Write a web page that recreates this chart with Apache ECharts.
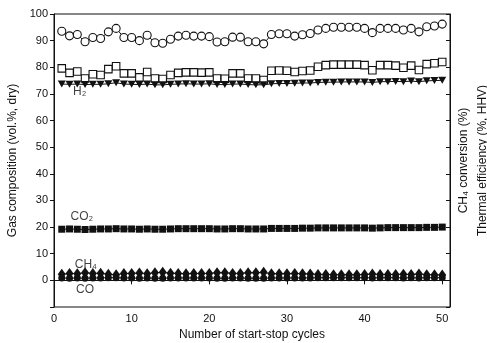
<!DOCTYPE html>
<html>
<head>
<meta charset="utf-8">
<script src="https://cdn.jsdelivr.net/npm/echarts@6/dist/echarts.min.js"></script>
<style>
  html, body { margin: 0; padding: 0; background: #fff; }
  #chart { width: 487px; height: 343px; }
</style>
</head>
<body>
<div id="chart"></div>
<script>
const cycles = [1, 2, 3, 4, 5, 6, 7, 8, 9, 10, 11, 12, 13, 14, 15, 16, 17, 18, 19, 20,
  21, 22, 23, 24, 25, 26, 27, 28, 29, 30, 31, 32, 33, 34, 35, 36, 37, 38, 39, 40,
  41, 42, 43, 44, 45, 46, 47, 48, 49, 50]

// open circles
const ch4Conversion = [93.5, 91.8, 92.3, 89.6, 91.2, 90.8, 93.3, 94.6, 91.2, 91.2,
  90.0, 92.0, 89.2, 89.0, 90.5, 91.7, 92.0, 91.7, 91.7, 91.5,
  89.5, 89.6, 91.3, 91.3, 89.6, 89.6, 88.8, 92.3, 92.6, 92.6,
  91.7, 92.2, 92.7, 94.0, 94.6, 95.0, 95.0, 95.0, 95.0, 94.6,
  93.0, 94.6, 94.6, 94.6, 94.0, 94.6, 93.3, 95.2, 95.5, 96.2]

// open squares
const thermalEff = [79.6, 77.9, 78.4, 75.8, 77.4, 77.1, 79.3, 80.4, 77.7, 77.7,
  76.2, 78.2, 75.8, 75.6, 77.1, 77.9, 78.1, 78.1, 78.0, 78.1,
  75.8, 75.7, 77.7, 77.7, 75.8, 75.8, 75.2, 78.7, 78.8, 78.7,
  78.2, 78.6, 78.8, 80.2, 80.8, 81.0, 81.0, 81.0, 81.0, 80.8,
  78.9, 80.8, 80.8, 80.6, 79.8, 80.6, 79.0, 81.2, 81.5, 82.0]

const h2 = [73.7, 73.6, 73.7, 73.5, 73.6, 73.6, 73.8, 74.2, 73.7, 73.6,
  73.5, 73.7, 73.4, 73.4, 73.6, 73.7, 73.8, 73.7, 73.7, 73.8,
  73.5, 73.5, 73.7, 73.7, 73.5, 73.4, 73.4, 73.8, 73.9, 73.9,
  74.0, 74.1, 74.1, 74.3, 74.4, 74.4, 74.5, 74.5, 74.5, 74.5,
  74.3, 74.6, 74.6, 74.7, 74.6, 74.8, 74.6, 74.9, 75.0, 75.1]

const co2 = [19.2, 19.3, 19.2, 19.1, 19.2, 19.3, 19.3, 19.4, 19.3, 19.3,
  19.2, 19.3, 19.2, 19.2, 19.3, 19.4, 19.4, 19.4, 19.4, 19.4,
  19.3, 19.3, 19.4, 19.4, 19.3, 19.3, 19.3, 19.5, 19.5, 19.5,
  19.5, 19.6, 19.6, 19.7, 19.7, 19.7, 19.7, 19.7, 19.7, 19.7,
  19.6, 19.7, 19.8, 19.8, 19.8, 19.8, 19.8, 19.9, 19.9, 20.0]

const ch4 = [2.3, 2.6, 2.5, 2.9, 2.6, 2.7, 2.3, 2.1, 2.6, 2.6,
  2.8, 2.5, 2.9, 3.0, 2.7, 2.6, 2.5, 2.6, 2.6, 2.6,
  2.9, 2.9, 2.6, 2.6, 2.9, 2.9, 3.0, 2.5, 2.5, 2.5,
  2.6, 2.5, 2.4, 2.2, 2.2, 2.1, 2.1, 2.1, 2.1, 2.2,
  2.4, 2.2, 2.2, 2.2, 2.3, 2.2, 2.4, 2.1, 2.1, 2.0]

const co = [0.9, 0.8, 0.9, 0.8, 0.9, 0.9, 1.0, 1.0, 0.9, 0.9,
  0.8, 0.9, 0.8, 0.8, 0.9, 0.9, 0.9, 0.9, 0.9, 0.9,
  0.8, 0.8, 0.9, 0.9, 0.8, 0.8, 0.8, 0.9, 0.9, 0.9,
  0.9, 0.9, 0.9, 1.0, 1.0, 1.0, 1.0, 1.0, 1.0, 1.0,
  0.9, 1.0, 1.0, 1.0, 0.9, 1.0, 0.9, 1.0, 1.0, 1.0]

// in-plot labels: [text, cycle, value]
const annotations = [
  ["H₂", 3.3, 70.9],
  ["CO₂", 3.6, 24],
  ["CH₄", 4.1, 6],
  ["CO", 4.0, -3.4],
]

const FONT = "'Liberation Sans', Arial, sans-serif"
const INK = "#111"

const pairs = (ys) => cycles.map((x, i) => [x, ys[i]])

function lineSeries(ys, symbol, size, filled, extra) {
  return Object.assign({
    type: "line",
    data: pairs(ys),
    symbol: symbol,
    symbolSize: size,
    showAllSymbol: true,
    silent: true,
    lineStyle: { color: INK, width: 1 },
    itemStyle: {
      color: filled ? INK : "#fff",
      borderColor: INK,
      borderWidth: filled ? 0 : 1.1,
    },
    z: 3,
  }, extra || {})
}

const chart = echarts.init(document.getElementById("chart"), null, { renderer: "canvas" })

chart.setOption({
  animation: false,
  backgroundColor: "#fff",
  grid: {
    left: 54, right: 37, top: 14, bottom: 36,
    containLabel: false, outerBoundsMode: "none",
    show: true, borderColor: INK, borderWidth: 1,
  },
  xAxis: {
    type: "value",
    min: 0,
    max: 51,
    interval: 10,
    name: "Number of start-stop cycles",
    nameLocation: "middle",
    nameGap: 21,
    nameTextStyle: { fontFamily: FONT, fontSize: 12, color: INK },
    axisLine: { lineStyle: { color: INK, width: 1 } },
    axisTick: { inside: false, length: 4, lineStyle: { color: INK } },
    axisLabel: { fontFamily: FONT, fontSize: 11, color: INK, margin: 6, showMaxLabel: false },
    splitLine: { show: false },
  },
  yAxis: [
    {
      type: "value",
      min: -10,
      max: 100,
      interval: 10,
      name: "Gas composition (vol.%, dry)",
      nameLocation: "middle",
      nameGap: 17,
      nameTextStyle: { fontFamily: FONT, fontSize: 12, color: INK },
      axisLine: { show: true, lineStyle: { color: INK, width: 1 } },
      axisTick: { show: true, inside: false, length: 4, lineStyle: { color: INK } },
      axisLabel: {
        fontFamily: FONT, fontSize: 11, color: INK, margin: 6,
        formatter: (v) => (v < 0 ? "" : String(v)),
      },
      splitLine: { show: false },
    },
    {
      type: "value",
      position: "right",
      min: -10,
      max: 100,
      interval: 10,
      name: "CH₄ conversion (%)\nThermal efficiency (%, HHV)",
      nameLocation: "middle",
      nameRotate: 90,
      nameGap: 4,
      nameTextStyle: { fontFamily: FONT, fontSize: 12, color: INK, lineHeight: 19, align: "center", verticalAlign: "top" },
      axisLine: { show: true, lineStyle: { color: INK, width: 1 } },
      axisTick: { show: true, inside: true, length: 4, lineStyle: { color: INK } },
      axisLabel: { show: false },
      splitLine: { show: false },
    },
  ],
  series: [
    lineSeries(ch4Conversion, "circle", 8, false),
    lineSeries(thermalEff, "rect", 7.5, false),
    lineSeries(h2, "triangle", [8, 7], true, { symbolRotate: 180 }),
    lineSeries(co2, "rect", [7, 7], true),
    lineSeries(ch4, "diamond", [8, 11], true),
    lineSeries(co, "circle", 7, true),
    {
      type: "scatter",
      silent: true,
      symbolSize: 0,
      data: annotations.map((a) => [a[1], a[2], a[0]]),
      label: {
        show: true,
        position: "inside",
        formatter: (p) => p.data[2],
        fontFamily: FONT,
        fontSize: 12,
        color: INK,
      },
      z: 5,
    },
  ],
})
</script>
</body>
</html>
